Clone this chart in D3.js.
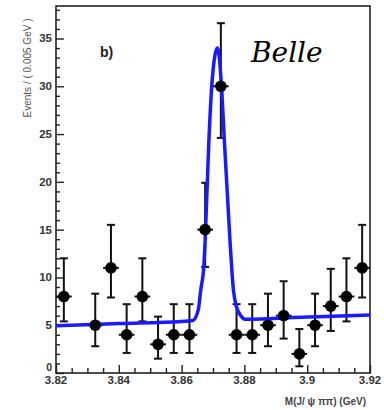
<!DOCTYPE html>
<html>
<head>
<meta charset="utf-8">
<script src="https://d3js.org/d3.v7.min.js"></script>
<style>
  body { margin: 0; background: #ffffff; }
  svg { display: block; }
</style>
</head>
<body>
<script>
// bin centres (GeV), events per 0.005 GeV bin and error bar ends
const mass     = [3.8225, 3.8325, 3.8375, 3.8425, 3.8475, 3.8525, 3.8575, 3.8625, 3.8675, 3.8725,
                  3.8775, 3.8825, 3.8875, 3.8925, 3.8975, 3.9025, 3.9075, 3.9125, 3.9175];
const events   = [8, 5, 11, 4, 8, 3, 4, 4, 15, 30, 4, 4, 5, 6, 2, 5, 7, 8, 11];
const errLow   = [5.4, 2.8, 7.9, 2.1, 5.4, 1.5, 2.1, 2.1, 11.1, 24.6, 2.1, 2.1, 2.8, 3.6, 0.7, 2.8, 4.4, 5.4, 7.9];
const errHigh  = [12.0, 8.3, 15.5, 7.2, 12.0, 5.9, 7.2, 7.2, 19.9, 36.6, 7.2, 7.2, 8.3, 9.6, 4.6, 8.3, 10.9, 12.0, 15.5];

// fit curve
const fitMass  = [3.82, 3.84, 3.86, 3.8636, 3.8653, 3.8661, 3.8671, 3.8675, 3.8687, 3.8697, 3.8714,
                  3.8728, 3.8736, 3.8754, 3.8765, 3.8775, 3.8791, 3.88, 3.90, 3.92];
const fitValue = [4.95, 5.18, 5.40, 5.50, 6.6, 8.7, 11.3, 13.9, 24.4, 30.5, 34.0,
                  29.5, 24.4, 13.9, 8.7, 6.9, 5.9, 5.62, 5.85, 6.07];

const xTicks = [3.82, 3.84, 3.86, 3.88, 3.9, 3.92];
const yTicks = [0, 5, 10, 15, 20, 25, 30, 35];

function init() {

  const svg = d3.select("body").append("svg")
    .attr("width", 384)
    .attr("height", 410);

  const x = d3.scaleLinear().domain([3.82, 3.92]).range([56, 370]);
  const y = d3.scaleLinear().domain([0, 38.4]).range([373, 6]);

  // frame
  const frame = svg.append("rect")
    .attr("x", 56)
    .attr("y", 6)
    .attr("width", 314)
    .attr("height", 367)
    .attr("fill", "none")
    .attr("stroke", "#222")
    .attr("stroke-width", 1.6);

  // y axis ticks, pointing inward
  const yAxis = svg.append("g")
    .attr("transform", "translate(56,0)")
    .call(d3.axisRight(y).tickValues(d3.range(0, 39, 1)).tickSize(4).tickFormat(""));
  yAxis.select(".domain").remove();
  yAxis.selectAll("line").attr("stroke", "#222").attr("stroke-width", 1.4);
  yAxis.selectAll(".tick").filter(d => d % 5 === 0).select("line").attr("x2", 8);

  svg.append("g").selectAll("text")
    .data(yTicks)
    .join("text")
    .attr("x", 52)
    .attr("y", d => y(d) + (d === 0 ? -2 : 4))
    .attr("text-anchor", "end")
    .attr("font-family", "Liberation Sans, Arial, sans-serif")
    .attr("font-weight", "bold")
    .attr("font-size", d => d === 0 ? 10.5 : 11.5)
    .attr("fill", "#333")
    .text(d => d);

  // x axis ticks, pointing inward
  const xAxis = svg.append("g")
    .attr("transform", "translate(0,373)")
    .call(d3.axisTop(x).tickValues(d3.range(0, 21).map(i => 3.82 + i * 0.005)).tickSize(5).tickFormat(""));
  xAxis.select(".domain").remove();
  xAxis.selectAll("line").attr("stroke", "#222").attr("stroke-width", 1.4);
  xAxis.selectAll(".tick").filter((d, i) => i % 4 === 0).select("line").attr("y2", -8);

  svg.append("g").selectAll("text")
    .data(xTicks)
    .join("text")
    .attr("x", d => x(d))
    .attr("y", 384)
    .attr("text-anchor", "middle")
    .attr("font-family", "Liberation Sans, Arial, sans-serif")
    .attr("font-weight", "bold")
    .attr("font-size", 11.5)
    .attr("fill", "#333")
    .text(d => d);

  // axis titles
  const xTitle = svg.append("text")
    .attr("x", 366)
    .attr("y", 405)
    .attr("text-anchor", "end")
    .attr("font-family", "Liberation Sans, Arial, sans-serif")
    .attr("font-weight", "bold")
    .attr("font-size", 10)
    .attr("fill", "#444")
    .text("M(J/ ψ ππ) (GeV)");

  const yTitle = svg.append("text")
    .attr("transform", "translate(31,68) rotate(-90)")
    .attr("text-anchor", "middle")
    .attr("font-family", "Liberation Sans, Arial, sans-serif")
    .attr("font-size", 10)
    .attr("fill", "#555")
    .text("Events / ( 0.005 GeV )");

  const label = svg.append("text")
    .attr("x", 100)
    .attr("y", 57)
    .attr("font-family", "Liberation Sans, Arial, sans-serif")
    .attr("font-weight", "bold")
    .attr("font-size", 14)
    .attr("fill", "#222")
    .text("b)");

  const belle = svg.append("text")
    .attr("x", 251)
    .attr("y", 62)
    .attr("font-family", "DejaVu Serif, serif")
    .attr("font-style", "italic")
    .attr("font-size", 28)
    .attr("fill", "#000")
    .text("Belle");

  const pts = mass.map((m, i) => ({m: m, n: events[i], lo: errLow[i], hi: errHigh[i]}));
  const halfBin = 0.0025;

  const bars = svg.append("g")
    .attr("stroke", "#111")
    .attr("stroke-width", 2);

  // vertical error bars with caps
  bars.selectAll(".ev").data(pts).join("line")
    .attr("x1", d => x(d.m)).attr("x2", d => x(d.m))
    .attr("y1", d => y(d.lo)).attr("y2", d => y(d.hi));
  bars.selectAll(".capHi").data(pts).join("line")
    .attr("x1", d => x(d.m) - 4).attr("x2", d => x(d.m) + 4)
    .attr("y1", d => y(d.hi)).attr("y2", d => y(d.hi));
  bars.selectAll(".capLo").data(pts).join("line")
    .attr("x1", d => x(d.m) - 4).attr("x2", d => x(d.m) + 4)
    .attr("y1", d => y(d.lo)).attr("y2", d => y(d.lo));

  // horizontal bin-width bars
  bars.selectAll(".eh").data(pts).join("line")
    .attr("x1", d => x(d.m - halfBin)).attr("x2", d => x(d.m + halfBin))
    .attr("y1", d => y(d.n)).attr("y2", d => y(d.n));

  // fit curve
  const line = d3.line()
    .x((d, i) => x(fitMass[i]))
    .y(d => y(d))
    .curve(d3.curveMonotoneX);

  const fit = svg.append("path")
    .attr("d", line(fitValue))
    .attr("fill", "none")
    .attr("stroke", "#1a1aff")
    .attr("stroke-width", 3.5)
    .attr("stroke-linejoin", "round");

  // markers
  svg.append("g").selectAll("circle")
    .data(pts)
    .join("circle")
    .attr("cx", d => x(d.m))
    .attr("cy", d => y(d.n))
    .attr("r", 5.8)
    .attr("fill", "#000");
}

init();
</script>
</body>
</html>
